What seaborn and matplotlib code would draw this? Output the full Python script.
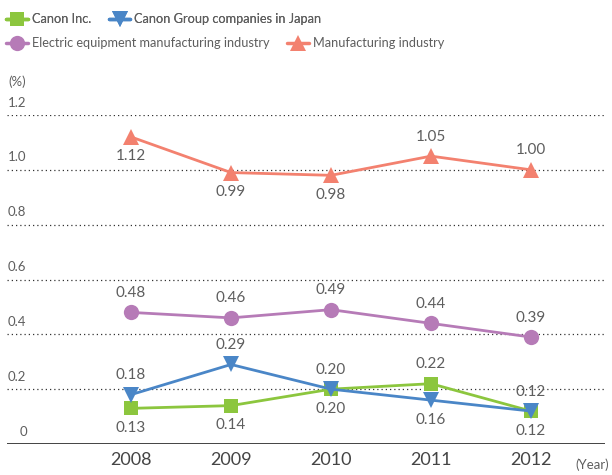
import numpy as np
import pandas as pd
import seaborn as sns
import matplotlib.pyplot as plt
from matplotlib.lines import Line2D
import matplotlib.transforms as mtransforms

years = [2008, 2009, 2010, 2011, 2012]
canon_inc = [0.13, 0.14, 0.20, 0.22, 0.12]
canon_group_japan = [0.18, 0.29, 0.20, 0.16, 0.12]
electric_equipment = [0.48, 0.46, 0.49, 0.44, 0.39]
manufacturing = [1.12, 0.99, 0.98, 1.05, 1.00]

series_names = ["Canon Inc.", "Canon Group companies in Japan",
                "Electric equipment manufacturing industry", "Manufacturing industry"]
series_values = [canon_inc, canon_group_japan, electric_equipment, manufacturing]
colors = ["#8cc63e", "#4a86c7", "#b67bb7", "#f3816f"]
markers = ["s", "v", "o", "^"]
msizes = [10, 11, 11, 11]
# +1 = label above the point, -1 = below
label_side = [
    [-1, -1, -1, 1, -1],
    [1, 1, 1, -1, 1],
    [1, 1, 1, 1, 1],
    [-1, -1, -1, 1, 1],
]
ytick_vals = [0, 0.2, 0.4, 0.6, 0.8, 1.0, 1.2]
ytick_labels = ["0", "0.2", "0.4", "0.6", "0.8", "1.0", "1.2"]

sns.set_style("white")
plt.rcParams["font.family"] = ["Lato", "DejaVu Sans"]
text_color = "#5e5e5e"

fig = plt.figure(figsize=(6.12, 4.75), dpi=100)
ax = fig.add_axes([7 / 612, 1 - 444 / 475, 598 / 612, (444 - 115) / 475])

# dotted gridlines
for v in ytick_vals[1:]:
    ax.axhline(v, color="#333333", lw=0.9, ls=(0, (1, 2.4)), zorder=0)
ax.axhline(0, color="#222222", lw=1.2, zorder=1)

handles = []
for name, vals, c, m, ms, sides in zip(series_names, series_values, colors, markers, msizes, label_side):
    sns.lineplot(x=years, y=vals, ax=ax, color=c, lw=2.0, marker=m, markersize=ms,
                 markeredgewidth=0, clip_on=False, zorder=3)
    for x, y, s in zip(years, vals, sides):
        ax.annotate("{:.2f}".format(y), (x, y), xytext=(0, 14 * s), textcoords="offset points",
                    ha="center", va="center", fontsize=11, color=text_color)
    handles.append(Line2D([0], [0], color=c, lw=2.5, marker=m, markersize=ms, markeredgewidth=0))

ax.set_xlim(2006.76, 2012.74)
ax.set_ylim(0, 1.2)
ax.set_xticks(years)
ax.set_xticklabels([str(y) for y in years], fontsize=13, color="#444444")
ax.tick_params(axis="x", length=0, pad=6)
ax.set_yticks([])
sns.despine(ax=ax, left=True, right=True, top=True, bottom=True)

trans = mtransforms.blended_transform_factory(fig.transFigure, ax.transData)
for v, lab in zip(ytick_vals, ytick_labels):
    xpos = 20 / 612 if v == 0 else 8 / 612
    ax.text(xpos, v + 0.045, lab, transform=trans, ha="left", va="center",
            fontsize=9.5, color=text_color)

fig.text(8 / 612, 1 - 82 / 475, "(%)", ha="left", va="center", fontsize=9.5, color=text_color)
fig.text(609 / 612, 1 - 465 / 475, "(Year)", ha="right", va="center", fontsize=9.5, color=text_color)

leg_kw = dict(ncol=2, frameon=False, loc="center left", fontsize=9.2, handlelength=1.7,
              handletextpad=0.3, columnspacing=1.4, borderaxespad=0, borderpad=0,
              labelcolor=text_color)
leg1 = fig.legend(handles[:2], series_names[:2], bbox_to_anchor=(6 / 612, 1 - 19 / 475), **leg_kw)
fig.add_artist(leg1)
fig.legend(handles[2:], series_names[2:], bbox_to_anchor=(6 / 612, 1 - 43 / 475), **leg_kw)

fig.savefig("out.png", dpi=100)
